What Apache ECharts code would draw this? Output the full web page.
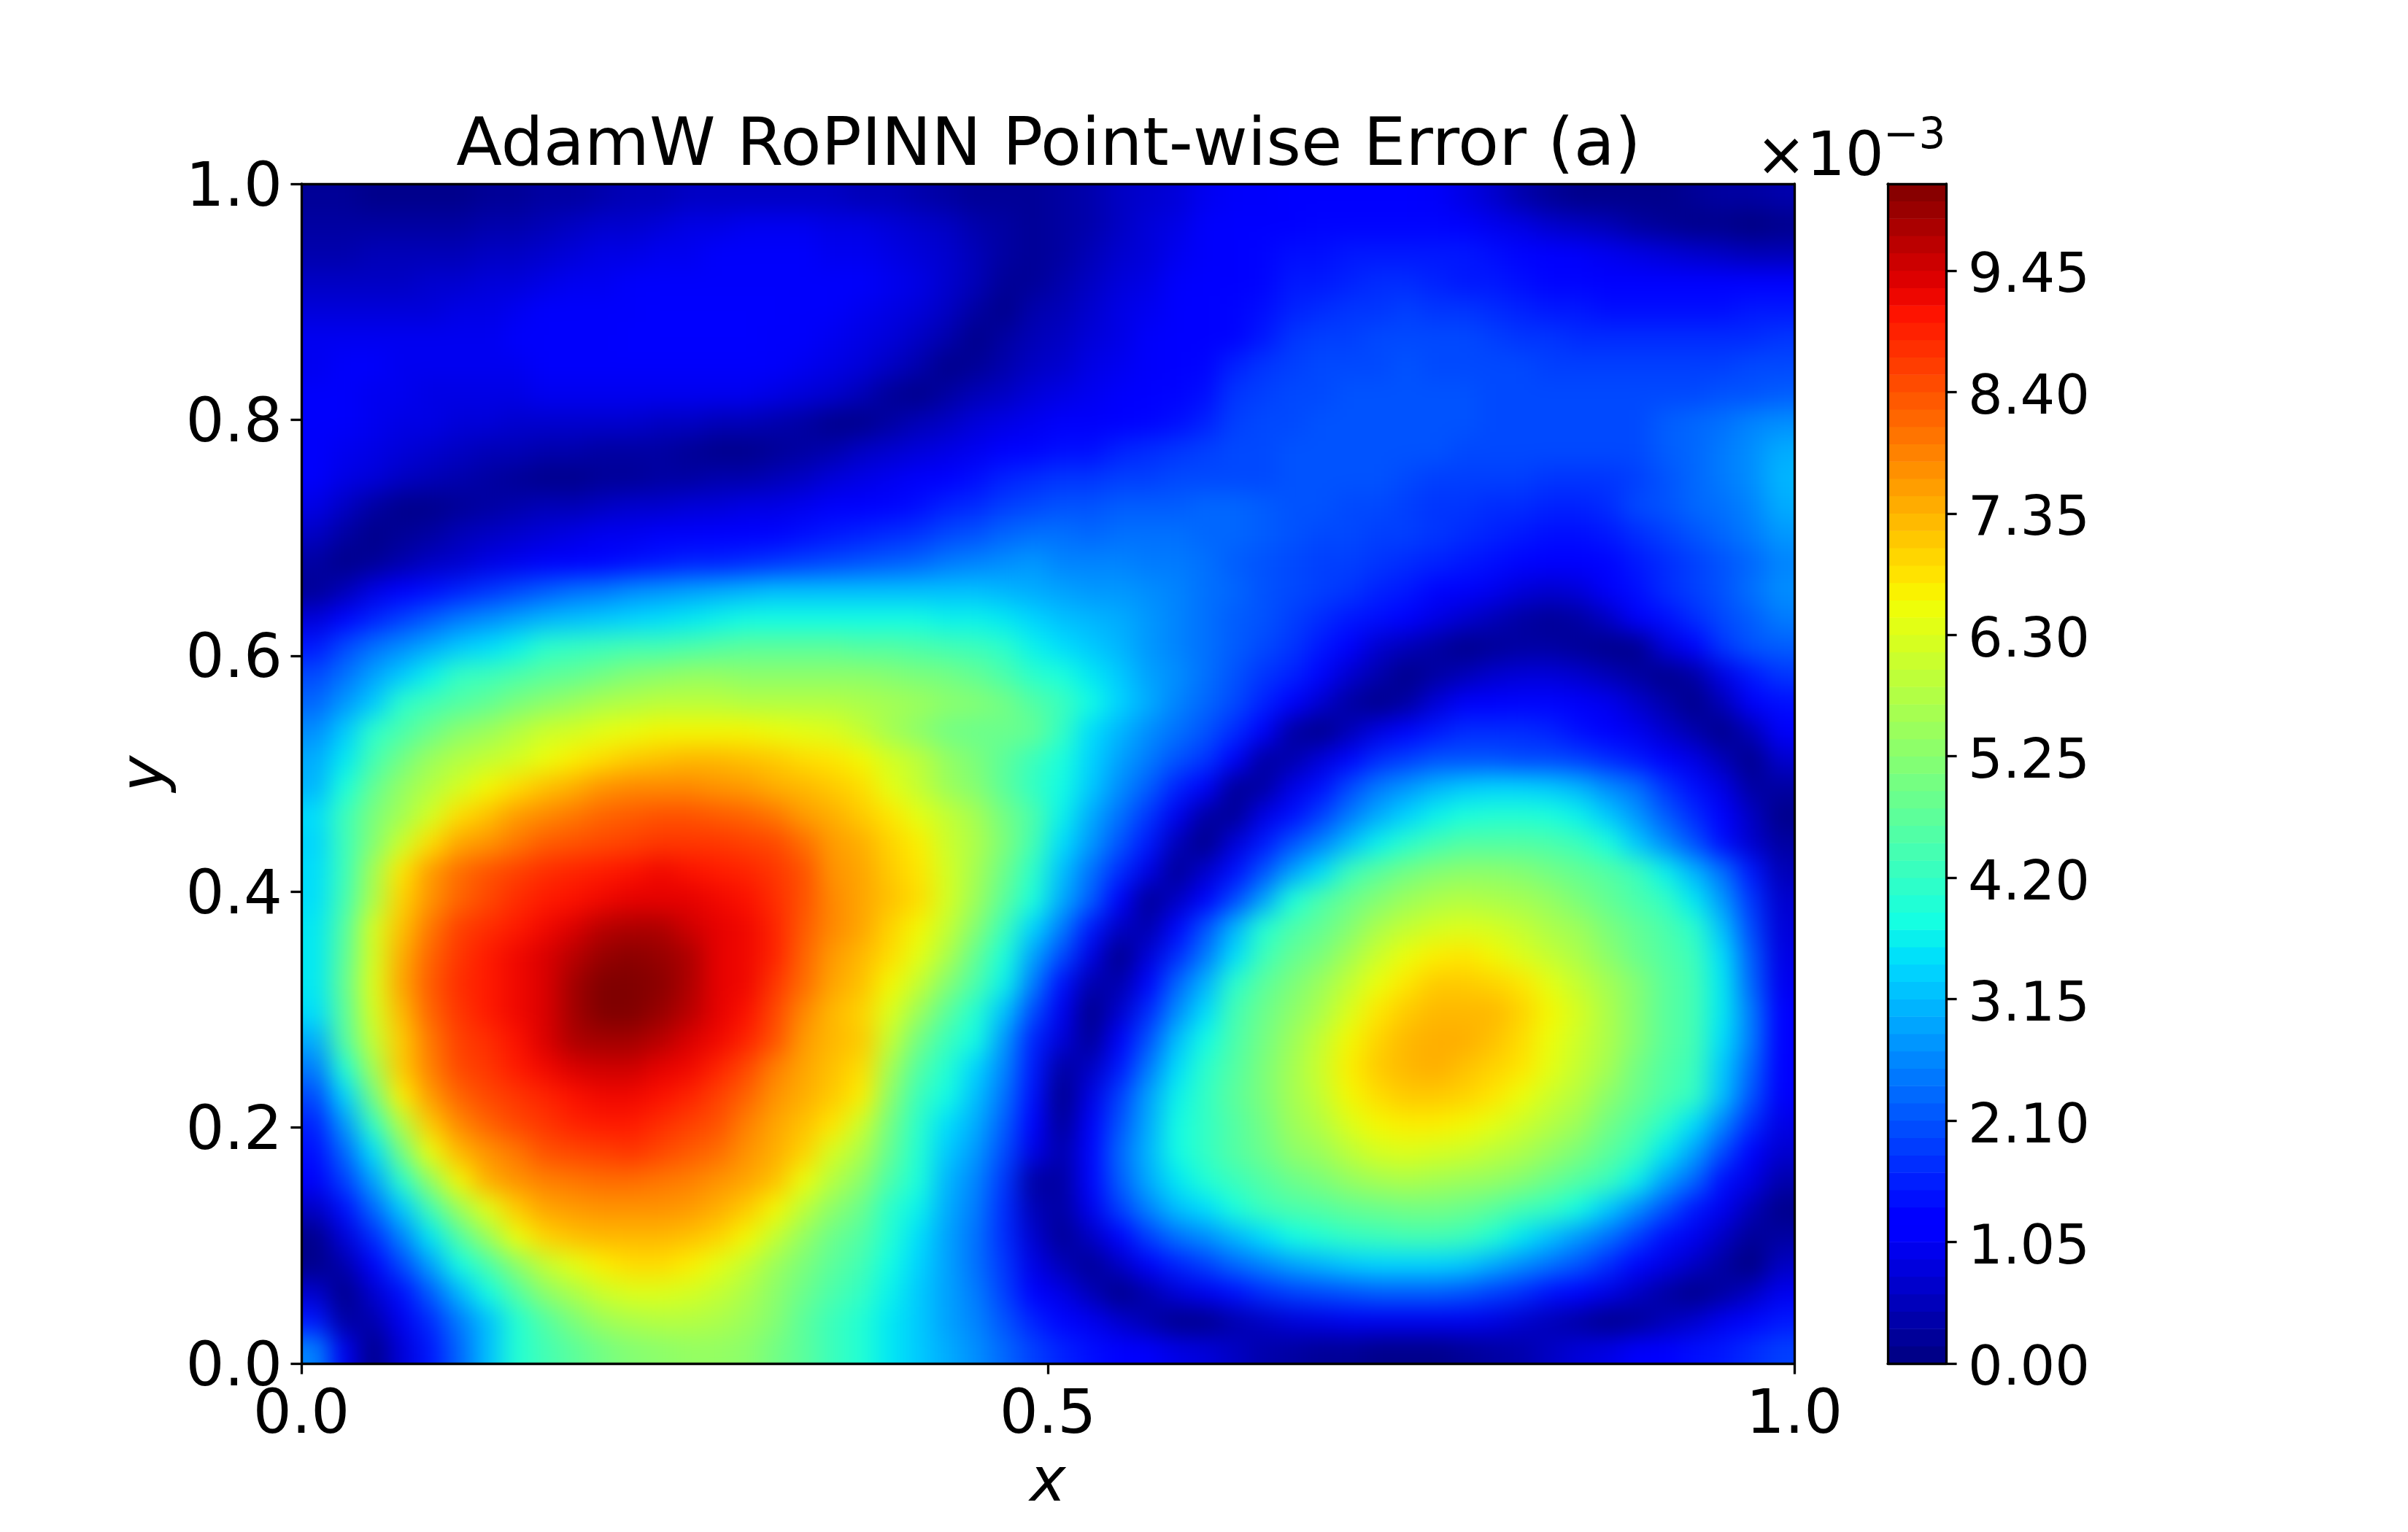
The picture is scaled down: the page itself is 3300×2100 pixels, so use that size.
<!DOCTYPE html>
<html><head><meta charset="utf-8"><style>html,body{margin:0;padding:0;background:#fff}#c{width:3300px;height:2100px}</style>
<script src="https://cdn.jsdelivr.net/npm/echarts@6/dist/echarts.min.js"></script></head><body><div id="c"></div><script>
// Point-wise error, in units of 1e-4; rows run from y≈1 (top) to y≈0 (bottom), columns from x≈0 to x≈1.
const errorRows = [
[2,2,1,1,1,1,2,2,3,3,4,5,5,6,6,6,6,6,6,5,5,4,3,2,2,2,3,4,6,7,8,10,11,11,12,12,12,12,12,11,9,7,4,2,1,1,1,1,2,3,3,4],
[3,3,3,3,3,3,4,4,5,6,7,7,8,9,9,10,10,10,9,9,8,7,6,4,3,2,3,4,6,8,9,11,12,12,12,13,13,13,13,13,12,10,9,7,6,5,3,2,1,1,0,1],
[4,4,5,5,5,5,6,6,7,8,9,9,10,10,11,11,11,11,10,10,9,8,7,5,3,2,3,5,7,8,10,11,12,13,14,14,15,15,15,15,15,14,13,12,11,10,9,8,7,6,5,5],
[6,6,6,6,7,7,8,8,9,10,10,11,11,11,11,11,11,11,11,11,10,9,7,5,2,2,4,6,8,9,11,12,12,13,15,15,16,17,17,16,15,15,14,13,13,12,12,12,12,12,12,12],
[8,8,8,8,8,9,9,10,11,11,11,11,12,12,12,12,12,11,11,10,9,8,6,3,1,4,5,7,9,10,12,12,13,14,16,17,18,18,19,18,18,17,16,15,15,14,14,14,14,14,15,15],
[10,10,10,10,10,10,10,11,11,11,11,12,12,12,12,12,11,11,10,9,8,6,4,1,3,5,6,8,9,11,12,12,13,15,18,19,19,20,20,20,20,19,18,18,17,17,17,17,17,17,17,18],
[10,11,11,10,10,10,10,10,11,11,11,11,11,11,11,11,11,10,9,8,6,4,1,2,4,6,7,9,10,11,12,13,16,18,19,20,20,20,21,20,20,20,20,19,19,19,19,19,19,19,20,20],
[11,11,10,10,9,9,9,9,10,10,10,10,10,10,10,10,9,8,7,5,2,1,3,5,6,8,9,10,11,12,13,14,18,19,20,20,21,21,21,21,21,20,20,20,20,20,20,20,20,21,21,22],
[11,11,10,9,9,8,8,7,7,7,7,7,6,6,5,5,4,3,1,1,3,5,6,8,9,10,11,11,12,13,14,16,19,20,20,21,21,21,21,21,21,20,20,20,20,20,20,22,23,24,26,27],
[11,10,9,8,7,6,5,5,4,4,3,3,3,2,1,1,2,3,4,6,7,8,9,10,12,13,14,14,16,17,18,19,20,20,21,21,21,21,21,21,20,20,20,20,20,20,20,22,23,25,27,30],
[11,9,8,6,5,4,3,2,1,1,2,2,3,3,4,4,5,6,8,9,10,11,12,14,16,17,18,18,19,19,20,20,20,20,21,21,21,21,20,19,19,19,19,18,18,18,19,21,23,25,27,31],
[9,6,3,1,1,2,3,4,5,5,6,7,7,8,8,9,9,10,11,12,13,14,16,17,19,20,21,21,22,22,22,23,23,22,21,21,20,20,19,18,18,17,17,16,16,17,20,21,23,24,26,30],
[6,3,1,2,3,5,6,7,8,9,10,10,11,11,12,12,13,14,15,16,17,18,20,21,23,24,24,23,24,24,24,23,23,22,21,20,20,19,19,18,17,16,15,14,14,15,17,19,21,23,25,28],
[3,1,2,4,6,7,9,10,11,12,13,14,15,16,16,17,18,19,20,21,22,23,25,26,27,28,26,26,26,25,25,24,22,21,20,19,19,18,17,16,15,14,13,12,12,13,15,17,19,21,23,26],
[2,5,9,12,14,16,18,20,22,24,25,27,28,29,30,31,32,32,32,32,32,32,32,32,31,30,29,28,28,27,26,24,23,21,20,19,18,16,15,13,11,10,8,7,8,11,14,17,19,21,24,27],
[8,13,16,19,22,25,27,29,31,32,33,34,35,36,37,38,38,38,38,38,38,38,37,37,36,34,32,31,30,28,26,24,22,21,19,17,15,14,12,9,7,5,3,2,3,6,11,14,17,20,22,25],
[15,20,24,27,30,33,35,37,41,42,43,44,44,45,46,47,47,47,47,46,46,45,44,43,41,37,35,33,31,28,26,24,22,20,18,15,12,7,5,3,1,2,3,3,2,1,1,8,12,18,21,22],
[20,24,29,33,37,42,43,45,47,48,50,52,53,54,54,53,53,53,53,53,52,51,50,48,45,41,39,36,33,29,27,24,21,18,16,13,7,4,1,3,5,7,8,8,7,5,3,1,3,9,15,18],
[23,28,33,41,44,46,48,51,53,55,57,58,59,59,59,58,58,58,58,57,56,55,53,52,50,46,43,38,34,30,26,23,20,16,12,7,3,1,3,8,11,12,13,13,11,10,7,4,1,5,11,14],
[27,33,41,45,49,53,55,58,61,62,64,65,66,66,66,66,65,64,63,60,56,53,50,49,49,48,42,35,31,27,24,21,17,12,3,1,5,9,13,15,17,17,17,16,14,12,10,7,4,1,5,11],
[30,36,44,50,55,58,60,62,65,67,69,71,72,73,73,72,71,69,68,66,62,59,54,51,47,43,39,34,29,25,21,18,12,3,4,8,13,17,19,21,21,21,20,20,19,17,15,12,9,5,1,7],
[31,39,48,54,58,62,66,69,72,74,77,78,78,78,77,76,74,73,71,69,64,60,55,52,47,42,38,33,27,22,16,11,2,3,9,14,20,25,28,31,33,34,34,33,31,27,24,18,14,9,3,3],
[35,43,51,56,62,69,72,76,78,80,82,83,84,84,83,82,80,76,74,71,68,64,60,56,50,45,37,30,24,18,10,3,2,9,14,19,25,30,34,37,39,40,40,39,37,33,28,22,17,12,6,1],
[34,43,52,61,69,75,77,80,83,84,85,86,87,87,87,86,85,81,76,74,70,67,61,57,51,44,35,28,21,15,5,1,8,15,21,26,32,37,41,44,46,46,46,45,43,39,33,27,21,14,7,3],
[35,43,56,68,76,81,84,86,88,89,90,91,92,91,90,89,87,84,77,75,71,68,62,56,49,41,32,24,17,9,2,7,14,21,29,35,43,47,50,52,53,53,52,50,48,46,43,37,31,24,15,5],
[35,44,57,70,77,82,85,88,90,91,92,93,93,93,92,91,88,84,78,75,72,69,62,55,47,39,30,22,12,2,6,12,20,29,39,45,49,52,55,57,58,57,56,54,51,48,45,42,36,28,18,7],
[36,46,62,72,80,86,88,90,92,94,97,98,98,95,93,92,89,83,78,75,70,66,60,52,43,34,25,15,6,4,13,21,31,40,45,48,52,57,60,62,63,62,60,57,55,51,48,45,41,32,20,8],
[36,47,62,74,82,87,90,92,94,97,100,101,100,98,93,92,89,82,76,73,69,64,57,48,39,29,20,9,1,8,17,25,35,43,48,51,56,61,65,67,68,66,63,60,57,53,49,46,43,35,22,9],
[36,48,63,75,83,88,90,92,94,99,102,102,101,98,93,92,87,81,75,72,66,60,52,45,37,25,14,4,4,13,23,31,41,47,51,55,60,65,68,71,71,70,68,64,60,56,52,47,44,36,23,10],
[35,47,62,73,82,87,90,92,94,99,102,102,100,97,93,91,85,78,73,70,63,55,47,40,32,20,10,1,7,17,27,35,44,49,53,57,63,68,71,73,73,73,70,66,62,57,52,47,44,36,25,12],
[30,46,60,71,80,86,88,91,94,98,99,99,97,94,92,89,84,76,73,71,60,50,43,38,28,16,8,2,11,21,32,38,45,50,55,60,66,70,73,74,74,72,69,65,61,57,52,47,44,35,25,12],
[25,40,56,71,79,85,87,90,92,94,95,95,93,92,89,85,79,75,72,69,56,46,40,34,26,15,3,6,15,25,35,41,46,51,56,61,67,71,73,74,72,70,68,64,60,56,50,46,43,33,23,12],
[20,34,50,67,76,82,85,87,89,91,92,92,91,89,86,82,77,74,71,67,53,43,38,32,24,14,1,9,19,29,37,42,47,51,56,60,66,69,71,71,70,68,65,61,58,53,49,45,42,32,21,11],
[16,28,42,58,71,78,82,85,87,89,90,90,88,86,84,79,75,72,68,61,50,41,35,30,22,12,2,11,21,30,38,42,46,50,55,58,63,66,67,67,66,64,61,58,55,50,46,41,35,26,17,9],
[14,23,35,50,65,73,77,80,84,85,86,87,85,83,81,77,74,70,62,57,48,40,33,28,20,9,4,13,23,31,38,42,46,49,53,55,59,62,63,62,61,59,57,54,51,47,43,36,29,20,12,7],
[11,19,29,41,54,66,74,77,79,80,81,81,80,79,77,75,72,65,58,53,45,39,31,26,18,3,3,13,22,30,36,40,43,46,49,51,54,56,57,56,55,54,52,49,46,43,37,29,23,14,9,4],
[6,14,23,33,44,55,64,71,75,76,77,77,77,76,74,71,66,59,53,49,41,37,30,25,17,5,3,10,19,26,32,35,39,43,45,46,48,49,50,50,49,47,44,42,38,33,27,21,15,10,5,1],
[1,8,17,26,36,46,55,65,70,72,73,73,73,72,70,66,60,54,49,46,40,35,29,24,17,7,2,6,12,19,24,27,31,35,38,40,42,43,44,44,43,40,36,32,28,24,19,14,10,6,2,3],
[1,4,11,20,29,38,45,53,60,64,67,69,69,67,64,60,55,51,47,44,38,34,29,24,18,9,5,2,6,11,16,19,23,26,29,31,33,34,34,34,33,30,27,24,21,17,13,9,6,3,0,6],
[7,1,7,14,22,31,38,46,53,57,61,63,63,62,60,57,53,49,45,42,37,33,29,25,19,12,9,5,1,4,8,10,14,17,19,20,21,22,22,22,21,19,17,14,12,9,6,3,1,3,6,10],
[15,3,4,10,17,25,32,40,46,51,55,57,58,58,57,55,52,47,43,40,36,33,29,26,21,16,13,10,7,4,1,1,4,6,8,9,10,10,10,10,10,9,7,5,3,1,2,5,7,10,13,15],
[26,10,1,8,15,23,32,40,44,47,50,52,53,54,54,53,50,47,43,40,36,33,30,27,23,19,16,14,12,11,9,8,6,4,3,2,2,1,1,1,2,3,4,6,8,9,11,12,14,15,17,19]
];
const xTickValues = [0, 0.5, 1];
const yTickValues = [0, 0.2, 0.4, 0.6, 0.8, 1];
const colorbarTicks = [0, 1.05, 2.1, 3.15, 4.2, 5.25, 6.3, 7.35, 8.4, 9.45];
const colorbarMax = 10.2;
const colorbarLevels = 68;
const errorMaxTenths = 102;

// matplotlib "jet" colormap segments
const jetR = [[0,0],[.35,0],[.66,1],[.89,1],[1,.5]];
const jetG = [[0,0],[.125,0],[.375,1],[.64,1],[.91,0],[1,0]];
const jetB = [[0,.5],[.11,1],[.34,1],[.65,0],[1,0]];
function seg(s,t){for(let i=1;i<s.length;i++){if(t<=s[i][0]){const a=s[i-1],b=s[i];return a[1]+(b[1]-a[1])*(t-a[0])/(b[0]-a[0]);}}return s[s.length-1][1];}
const palette=[];for(let i=0;i<=128;i++){const t=i/128;palette.push('rgb('+[jetR,jetG,jetB].map(s=>Math.round(255*seg(s,t))).join(',')+')');}

const nRows = errorRows.length;
const cellData = [];
errorRows.forEach((row, r) => row.forEach((v, c) => cellData.push([c, nRows - 1 - r, v])));
const colIndex = errorRows[0].map((_, c) => String(c));
const rowIndex = errorRows.map((_, r) => String(r));
const levelIndex = Array.from({length: colorbarLevels}, (_, i) => String(i));
const levelData = levelIndex.map((_, i) => [0, i, (i + .5) * errorMaxTenths / colorbarLevels]);

const FONT = 'DejaVu Sans';
const line = {show:true, onZero:false, lineStyle:{color:'#000', width:3.3}};
const off = {show:false};
const tick = {show:true, length:14.6, lineStyle:{color:'#000', width:3.3}};
const frameAxis = (extra) => Object.assign({type:'value', z:10, zlevel:3, min:0, max:1, axisLine:line, axisTick:off, axisLabel:off, splitLine:off}, extra);
const hiddenCat = (gridIndex, data) => ({type:'category', gridIndex, data, show:false, boundaryGap:true, z:0});

const chart = echarts.init(document.getElementById('c'), null, {renderer:'canvas', width:3300, height:2100});
chart.setOption({
  animation:false, backgroundColor:'#fff',
  title:{text:'AdamW RoPINN Point-wise Error (a)', left:1432, top:151, textAlign:'center', zlevel:3,
    textStyle:{fontFamily:FONT, fontSize:91.67, fontWeight:'normal', color:'#000'}},
  grid:[
    {left:413, top:252, width:2046, height:1617, containLabel:false},
    {left:2587, top:252, width:80, height:1617, containLabel:false}
  ],
  xAxis:[
    hiddenCat(0, colIndex),
    frameAxis({gridIndex:0, position:'bottom', interval:0.5, axisTick:tick, name:'x', nameLocation:'middle', nameGap:125,
      nameTextStyle:{fontFamily:FONT, fontStyle:'italic', fontSize:83.3, color:'#000'},
      axisLabel:{show:true, margin:32, fontFamily:FONT, fontSize:83.3, color:'#000', formatter:v=>v.toFixed(1)}}),
    frameAxis({gridIndex:0, position:'top'}),
    hiddenCat(1, ['0']),
    frameAxis({gridIndex:1, position:'bottom'}),
    frameAxis({gridIndex:1, position:'top'})
  ],
  yAxis:[
    hiddenCat(0, rowIndex),
    frameAxis({gridIndex:0, position:'left', interval:0.2, axisTick:tick, name:'y', nameLocation:'middle', nameGap:160, nameRotate:90,
      nameTextStyle:{fontFamily:FONT, fontStyle:'italic', fontSize:83.3, color:'#000'},
      axisLabel:{show:true, margin:26, verticalAlign:'top', lineHeight:16, fontFamily:FONT, fontSize:83.3, color:'#000', formatter:v=>v.toFixed(1)}}),
    frameAxis({gridIndex:0, position:'right'}),
    hiddenCat(1, levelIndex),
    frameAxis({gridIndex:1, position:'left'}),
    frameAxis({gridIndex:1, position:'right', max:colorbarMax,
      axisTick:Object.assign({}, tick, {customValues:colorbarTicks}),
      axisLabel:{show:true, margin:30, verticalAlign:'top', lineHeight:20, fontFamily:FONT, fontSize:75, color:'#000', customValues:colorbarTicks, formatter:v=>v.toFixed(2)}})
  ],
  visualMap:{type:'continuous', show:false, min:0, max:errorMaxTenths, dimension:2, seriesIndex:[0,1], inRange:{color:palette}},
  series:[
    {type:'heatmap', zlevel:1, xAxisIndex:0, yAxisIndex:0, data:cellData, progressive:0, itemStyle:{borderWidth:0}, emphasis:{disabled:true}},
    {type:'heatmap', xAxisIndex:3, yAxisIndex:3, data:levelData, progressive:0, itemStyle:{borderWidth:0}, emphasis:{disabled:true}}
  ],
  graphic:[
    {type:'text', zlevel:3, left:2406, top:177, style:{text:'×10', fontFamily:FONT, fontSize:83.3, fill:'#000'}},
    {type:'text', zlevel:3, left:2581, top:159, style:{text:'−3', fontFamily:FONT, fontSize:58, fill:'#000'}}
  ]
});
// Soften the cell edges of the heatmap layer so the field reads as continuous. The layer is clipped to the
// plot area, and its border pixels are stretched outward first so the blur keeps full colour at the frame.
let softened = false;
function applySoftening(){
  if (softened) return;
  const layers = chart.getDom().querySelectorAll('canvas');
  if (layers.length < 2) return;
  const cv = layers[1], ctx = cv.getContext('2d');
  if (ctx.getImageData(1000, 1000, 1, 1).data[3] === 0) return;
  const L = 413, T = 252, W = 2046, H = 1617, E = 70;
  ctx.drawImage(cv, L + 1, T, 1, H, L - E, T, E + 1, H);
  ctx.drawImage(cv, L + W - 2, T, 1, H, L + W - 1, T, E + 1, H);
  ctx.drawImage(cv, L - E, T + 1, W + 2 * E, 1, L - E, T - E, W + 2 * E, E + 1);
  ctx.drawImage(cv, L - E, T + H - 2, W + 2 * E, 1, L - E, T + H - 1, W + 2 * E, E + 1);
  cv.style.filter = 'blur(16px)';
  cv.style.clipPath = 'inset(252px 841px 231px 413px)';
  softened = true;
}
chart.on('finished', applySoftening);
applySoftening();
[0, 50, 150, 400].forEach(t => setTimeout(applySoftening, t));
</script></body></html>
